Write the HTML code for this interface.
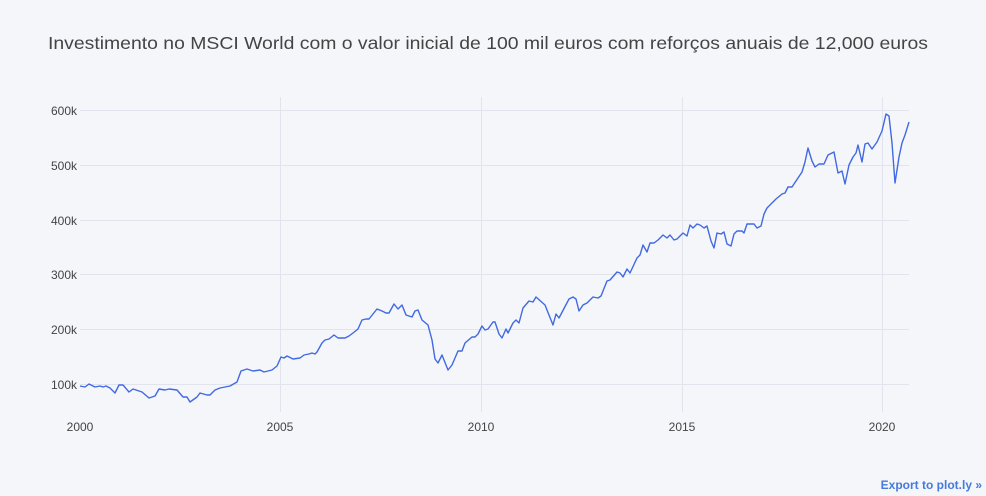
<!DOCTYPE html>
<html><head><meta charset="utf-8"><style>
html,body{margin:0;padding:0;background:#f5f6fa;}
svg{display:block;font-family:"Liberation Sans",Arial,sans-serif;}
</style></head><body>
<svg width="986" height="496" viewBox="0 0 986 496" xmlns="http://www.w3.org/2000/svg">
<rect width="986" height="496" fill="#f5f6fa"/>
<text x="488" y="49" text-anchor="middle" font-size="17.5" fill="#444" textLength="880" lengthAdjust="spacingAndGlyphs">Investimento no MSCI World com o valor inicial de 100 mil euros com reforços anuais de 12,000 euros</text>
<g stroke="#e1e4ec" stroke-width="1">
<line x1="80" x2="909" y1="110.5" y2="110.5"/>
<line x1="80" x2="909" y1="165.5" y2="165.5"/>
<line x1="80" x2="909" y1="220.5" y2="220.5"/>
<line x1="80" x2="909" y1="274.5" y2="274.5"/>
<line x1="80" x2="909" y1="329.5" y2="329.5"/>
<line x1="80" x2="909" y1="384.5" y2="384.5"/>
<line x1="280.5" x2="280.5" y1="97" y2="412"/>
<line x1="481.5" x2="481.5" y1="97" y2="412"/>
<line x1="682.5" x2="682.5" y1="97" y2="412"/>
<line x1="882.5" x2="882.5" y1="97" y2="412"/>
</g>
<g font-size="12" fill="#444" text-anchor="end">
<text x="77" y="115">600k</text>
<text x="77" y="170">500k</text>
<text x="77" y="225">400k</text>
<text x="77" y="279">300k</text>
<text x="77" y="334">200k</text>
<text x="77" y="389">100k</text>
</g>
<g font-size="12" fill="#444" text-anchor="middle">
<text x="80" y="431">2000</text>
<text x="280" y="431">2005</text>
<text x="481" y="431">2010</text>
<text x="682" y="431">2015</text>
<text x="882" y="431">2020</text>
</g>
<polyline fill="none" stroke="#4169e1" stroke-width="1.4" stroke-linejoin="round" points="80,386 85,387 89,384 95,387 100,386 103,387 106,386 110,388 115,393 119,385 123,385 129,392 133,389 142,392 149,398 155,396 159,389 165,390 169,389 177,390 183,397 187,397 190,402 197,397 200,393 207,395 210,395 215,390 220,388 230,386 237,382 241,371 247,369 253,371 260,370 264,372 272,370 277,366 281,357 284,358 287,356 293,359 300,358 304,355 309,354 312,353 315,354 317,352 322,343 325,340 329,339 334,335 338,338 345,338 349,336 353,333 358,329 362,320 366,319 369,319 377,309 382,311 386,313 389,313 394,304 398,309 402,305 406,315 412,317 415,311 418,310 422,320 428,325 432,340 435,359 438,363 442,355 448,370 452,365 458,351 462,351 465,343 472,337 475,337 478,334 482,326 485,330 488,329 493,322 495,322 499,334 502,338 506,329 508,333 513,323 516,320 519,323 523,308 529,301 533,302 536,297 545,305 553,325 556,314 559,318 569,299 573,297 576,299 579,311 583,305 587,303 593,297 598,298 601,296 607,281 610,280 617,272 620,273 623,277 627,269 630,273 637,258 640,255 643,245 647,252 650,243 654,243 658,240 663,235 667,238 670,235 674,240 677,239 683,233 687,236 690,225 693,228 697,224 700,225 704,228 707,226 711,241 714,248 717,233 721,234 724,232 727,244 731,246 734,234 737,231 742,231 744,233 747,224 754,224 757,228 761,226 764,214 767,208 772,203 776,199 782,194 785,193 788,187 792,187 802,172 805,162 808,148 812,161 815,167 819,164 824,164 828,155 834,152 838,173 842,171 845,184 849,165 853,157 856,153 858,145 862,162 865,144 868,143 872,149 877,142 882,131 886,114 889,116 892,143 895,183 899,157 902,143 905,135 909,122"/>
<text x="982" y="489" text-anchor="end" font-size="12" font-weight="bold" fill="#447adb">Export to plot.ly »</text>
</svg>
</body></html>
